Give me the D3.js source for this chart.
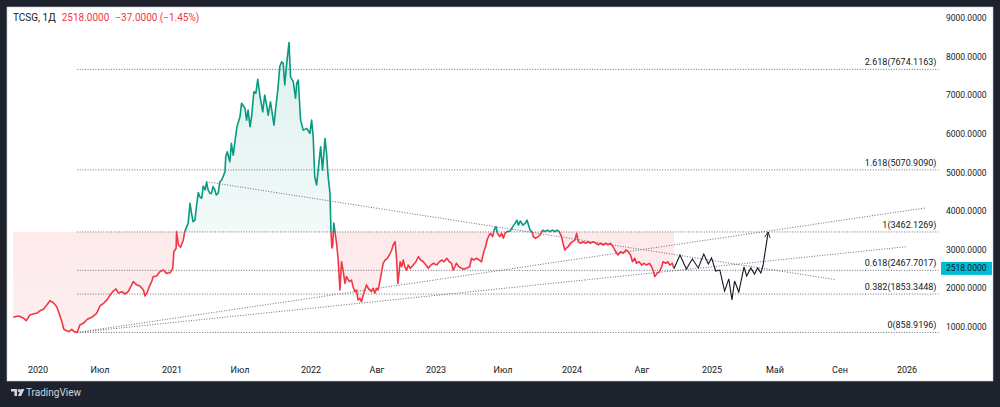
<!DOCTYPE html>
<html>
<head>
<meta charset="utf-8">
<title>TCSG</title>
<script src="https://cdn.jsdelivr.net/npm/d3@7"></script>
<style>
  html, body { margin: 0; padding: 0; background: #1e222d; }
  svg { display: block; }
  text { font-family: Roboto, "Noto Sans", sans-serif; }
</style>
</head>
<body>
<svg id="svg"></svg>
<script>
var WIDTH = 1000;
var HEIGHT = 407;

// price history (daily close)
var dates = ["2019-10-26","2019-11-03","2019-11-09","2019-11-18","2019-11-24","2019-11-30","2019-12-05","2019-12-10","2019-12-19","2019-12-28",
"2020-01-07","2020-01-17","2020-01-27","2020-02-05","2020-02-15","2020-02-25","2020-03-03","2020-03-11","2020-03-17","2020-03-25",
"2020-04-01","2020-04-09","2020-04-16","2020-04-25","2020-05-03","2020-05-13","2020-05-25","2020-06-07","2020-06-21",
"2020-07-01","2020-07-11","2020-07-20","2020-07-27","2020-08-04","2020-08-11","2020-08-17","2020-08-26","2020-09-03","2020-09-11",
"2020-09-20","2020-09-24","2020-10-03","2020-10-11","2020-10-20","2020-10-24","2020-10-30","2020-11-04","2020-11-10","2020-11-14",
"2020-11-23","2020-12-01","2020-12-10","2020-12-18","2020-12-27",
"2021-01-03","2021-01-06","2021-01-12","2021-01-13","2021-01-18","2021-01-24","2021-01-31","2021-02-04","2021-02-09","2021-02-13",
"2021-02-18","2021-02-22","2021-02-26","2021-03-03","2021-03-07","2021-03-12","2021-03-16","2021-03-21","2021-03-25","2021-03-30",
"2021-04-03","2021-04-07","2021-04-12","2021-04-16","2021-04-20","2021-04-25","2021-04-29","2021-05-04","2021-05-08","2021-05-13",
"2021-05-17","2021-05-22","2021-05-24","2021-05-28","2021-06-04","2021-06-08","2021-06-13","2021-06-17","2021-06-23","2021-07-01",
"2021-07-05","2021-07-14","2021-07-18","2021-07-22","2021-07-27","2021-07-31","2021-08-06","2021-08-11","2021-08-16","2021-08-22",
"2021-08-29","2021-09-03","2021-09-08","2021-09-12","2021-09-18","2021-09-27","2021-10-02","2021-10-07","2021-10-12","2021-10-17",
"2021-10-21","2021-10-25","2021-10-30","2021-11-05","2021-11-09","2021-11-16","2021-11-22","2021-11-25","2021-11-29","2021-12-05",
"2021-12-12","2021-12-21","2021-12-29",
"2022-01-03","2022-01-08","2022-01-13","2022-01-19","2022-01-24","2022-02-01","2022-02-07","2022-02-15","2022-02-20","2022-02-25",
"2022-03-03","2022-03-06","2022-03-09","2022-03-12","2022-03-15","2022-03-19","2022-03-24","2022-03-29","2022-04-04","2022-04-09",
"2022-04-14","2022-04-20","2022-04-25","2022-05-04","2022-05-11","2022-05-16","2022-05-22","2022-05-27","2022-06-01","2022-06-07",
"2022-06-12","2022-06-18","2022-06-23","2022-06-28","2022-07-04","2022-07-09","2022-07-14","2022-07-20","2022-07-25","2022-07-31",
"2022-08-04","2022-08-09","2022-08-13","2022-08-17","2022-08-22","2022-08-28","2022-09-02","2022-09-08","2022-09-12","2022-09-17",
"2022-09-21","2022-09-24","2022-09-27","2022-09-30","2022-10-04","2022-10-08","2022-10-12","2022-10-17","2022-10-21","2022-10-26",
"2022-11-03","2022-11-10","2022-11-16","2022-11-22","2022-11-29","2022-12-06","2022-12-12","2022-12-19","2022-12-25",
"2023-01-03","2023-01-10","2023-01-16","2023-01-23","2023-01-30","2023-02-06","2023-02-12","2023-02-16","2023-02-21","2023-02-25",
"2023-03-04","2023-03-11","2023-03-17","2023-03-24","2023-04-02","2023-04-07","2023-04-13","2023-04-20","2023-04-28","2023-05-04",
"2023-05-10","2023-05-15","2023-05-19","2023-05-25","2023-05-28","2023-06-03","2023-06-07","2023-06-12","2023-06-16","2023-06-22",
"2023-06-27","2023-07-02","2023-07-06","2023-07-12","2023-07-20","2023-07-27","2023-08-02","2023-08-07","2023-08-11","2023-08-16",
"2023-08-23","2023-08-29","2023-09-03","2023-09-07","2023-09-11","2023-09-16","2023-09-20","2023-09-25","2023-10-01","2023-10-08",
"2023-10-15","2023-10-21","2023-10-27","2023-11-03","2023-11-10","2023-11-16","2023-11-22","2023-11-28","2023-12-04","2023-12-08",
"2023-12-13","2023-12-17","2023-12-22","2023-12-28",
"2024-01-03","2024-01-10","2024-01-15","2024-01-20","2024-01-27","2024-02-04","2024-02-12","2024-02-19","2024-02-26","2024-03-05",
"2024-03-14","2024-03-21","2024-03-28","2024-04-05","2024-04-13","2024-04-20","2024-04-27","2024-05-05","2024-05-10","2024-05-16",
"2024-05-20","2024-05-28","2024-06-05","2024-06-13","2024-06-20","2024-06-27","2024-07-03","2024-07-10","2024-07-15","2024-07-23",
"2024-07-31","2024-08-05","2024-08-11","2024-08-17","2024-08-22","2024-08-26","2024-08-29","2024-09-03","2024-09-08","2024-09-13",
"2024-09-16","2024-09-22","2024-09-26","2024-10-01","2024-10-06","2024-10-10"];

var prices = [1250,1270,1285,1250,1220,1165,1235,1310,1335,1355,
1420,1460,1570,1680,1630,1525,1355,1135,940,905,
880,940,880,859,1050,1095,1200,1250,1355,
1545,1620,1715,1830,1930,1985,1880,1915,1855,1915,
2090,2175,2090,2060,1960,1805,1905,2045,2175,2305,
2320,2430,2475,2390,2405,
2520,2950,3040,3470,3125,3065,3255,3470,3600,3685,
4205,3945,3730,3770,4115,4485,4375,4335,4650,4550,
4755,4550,4460,4460,4635,4550,4420,4465,4755,4810,
4895,5020,5410,5540,5280,5760,5455,5760,6190,6445,
6795,6665,6360,6620,6190,6445,7095,7055,7415,6965,
6575,7010,6750,6490,6835,6230,6705,7140,7740,7870,
7830,7270,7830,8370,7480,7355,6925,7310,7400,6360,
6100,6145,6015,
6360,5930,4895,4680,5065,5670,5065,5885,5500,4895,
4465,3510,3045,3125,3695,3470,3170,2780,1960,2690,
2475,2130,2305,2175,2215,2045,1915,1960,1700,1745,
1655,1830,1960,2090,2000,1960,1915,2000,1875,2000,
1960,2215,2430,2650,2735,2780,2865,2995,3125,3210,
2735,2130,2390,2690,2560,2735,2560,2475,2605,2520,
2605,2690,2820,2735,2690,2605,2520,2605,2650,
2605,2690,2735,2690,2780,2690,2650,2475,2560,2650,
2560,2520,2495,2520,2560,2780,2735,2780,2735,2690,
2950,3080,3255,3385,3425,3340,3510,3600,3425,3340,
3425,3300,3425,3470,3485,3600,3685,3770,3640,3745,
3640,3685,3770,3640,3510,3470,3340,3300,3325,3385,
3510,3470,3510,3470,3510,3470,3510,3470,3340,3170,
2995,3040,3080,3170,
3210,3255,3425,3210,3170,3210,3170,3210,3170,3210,
3170,3125,3170,3125,3170,3125,3170,3080,2995,2910,
2865,2950,2910,2995,2950,2865,2690,2780,2650,2690,
2605,2650,2605,2650,2560,2430,2305,2390,2430,2560,
2690,2650,2690,2605,2650,2518];

// hand-drawn projection after the last bar
var projDates = ["2024-10-10","2024-10-23","2024-11-06","2024-11-19","2024-12-02","2024-12-14","2024-12-24","2024-12-31",
"2025-01-08","2025-01-16","2025-01-25","2025-02-02","2025-02-08","2025-02-13","2025-02-21","2025-03-03","2025-03-08",
"2025-03-16","2025-03-23","2025-03-29","2025-04-04","2025-04-08","2025-04-18"];
var projPrices = [2518,2865,2500,2760,2530,2890,2630,2790,2450,2475,1930,2245,1700,2190,1905,2555,2320,2530,2370,2530,2400,2580,3460];

// fibonacci extension levels
var fibRatios = ["0","0.382","0.618","1","1.618","2.618"];
var fibValues = [858.9196,1853.3448,2467.7017,3462.1269,5070.9090,7674.1163];
var fibStart = "2020-04-25";
var fibEnd = "2026-02-28";
var baseline = 3462.1269;

// trend lines: [start date, start price, end date, end price]
var trendLines = [
  ["2020-04-25", 858.92, "2026-02-03", 4082],
  ["2020-04-25", 858.92, "2025-12-31", 3080],
  ["2021-04-03", 4763, "2025-08-22", 2230]
];

// time axis (TradingView bar axis, so spacing per month is not even)
var axisDates = ["2019-10-01","2020-01-01","2020-07-01","2021-01-01","2021-07-01","2022-01-01","2022-08-01","2023-01-01",
"2023-07-01","2024-01-01","2024-08-01","2025-01-01","2025-05-01","2025-09-01","2026-01-01","2026-03-01"];
var axisPx = [4,38,100,172,240,311,377,436,503,572,642,712,775,840,907,939];
var xTickLabels = ["2020","Июл","2021","Июл","2022","Авг","2023","Июл","2024","Авг","2025","Май","Сен","2026"];
var yTicks = [1000,2000,3000,4000,5000,6000,7000,8000,9000];
var lastPrice = 2518;

var parse = d3.timeParse("%Y-%m-%d");
var fmt4 = d3.format(".4f");

var GREEN = "#089981";
var RED = "#f23645";

var svg = d3.select("#svg").attr("width", WIDTH).attr("height", HEIGHT);

var xScale = d3.scaleTime().domain(axisDates.map(parse)).range(axisPx);
var yScale = d3.scaleLinear().domain([1000, 9000]).range([327, 18.2]);

var series = dates.map(function(d, i){ return {date: parse(d), value: prices[i]}; });
var proj = projDates.map(function(d, i){ return {date: parse(d), value: projPrices[i]}; });

// white panel
svg.append("rect").attr("x", 7).attr("y", 7).attr("width", 986).attr("height", 374)
   .attr("fill", "#ffffff").attr("stroke", "#c9ccd3").attr("stroke-width", 0.6);

var defs = svg.append("defs");
var by = yScale(baseline);
defs.append("clipPath").attr("id", "above").append("rect")
    .attr("x", 0).attr("y", 0).attr("width", 940).attr("height", by);
defs.append("clipPath").attr("id", "below").append("rect")
    .attr("x", 0).attr("y", by).attr("width", 940).attr("height", HEIGHT - by);

var gTop = defs.append("linearGradient").attr("id", "gTop")
    .attr("gradientUnits", "userSpaceOnUse").attr("x1", 0).attr("x2", 0)
    .attr("y1", yScale(8400)).attr("y2", by);
gTop.append("stop").attr("offset", 0).attr("stop-color", GREEN).attr("stop-opacity", 0.14);
gTop.append("stop").attr("offset", 1).attr("stop-color", GREEN).attr("stop-opacity", 0.05);
var gBot = defs.append("linearGradient").attr("id", "gBot")
    .attr("gradientUnits", "userSpaceOnUse").attr("x1", 0).attr("x2", 0)
    .attr("y1", by).attr("y2", yScale(850));
gBot.append("stop").attr("offset", 0).attr("stop-color", RED).attr("stop-opacity", 0.11);
gBot.append("stop").attr("offset", 1).attr("stop-color", RED).attr("stop-opacity", 0.08);

defs.append("marker").attr("id", "arrow").attr("viewBox", "0 0 10 10")
    .attr("refX", 9).attr("refY", 5).attr("markerWidth", 7).attr("markerHeight", 7)
    .attr("markerUnits", "userSpaceOnUse").attr("orient", "auto")
    .append("path").attr("d", "M1,1 L9,5 L1,9").attr("fill", "none")
    .attr("stroke", "#131722").attr("stroke-width", 1.2);

var area = d3.area().x(function(d){ return xScale(d.date); })
    .y0(by).y1(function(d){ return yScale(d.value); });
var line = d3.line().x(function(d){ return xScale(d.date); })
    .y(function(d){ return yScale(d.value); });

svg.append("path").datum(series).attr("d", area).attr("fill", "url(#gTop)").attr("clip-path", "url(#above)");
svg.append("path").datum(series).attr("d", area).attr("fill", "url(#gBot)").attr("clip-path", "url(#below)");

// fib levels
var x0 = xScale(parse(fibStart)), x1 = xScale(parse(fibEnd));
svg.selectAll(".fib").data(fibValues).enter().append("line")
   .attr("x1", x0).attr("x2", x1)
   .attr("y1", function(d){ return yScale(d); }).attr("y2", function(d){ return yScale(d); })
   .attr("stroke", "#6a6d78").attr("stroke-width", 1).attr("stroke-dasharray", "1,1.6");
svg.selectAll(".fibLabel").data(fibValues).enter().append("text")
   .attr("x", x1 - 2).attr("y", function(d){ return yScale(d) - 4; })
   .attr("text-anchor", "end").attr("font-size", "9px").attr("fill", "#131722")
   .text(function(d, i){ return fibRatios[i] + "(" + fmt4(d) + ")"; });

// trend lines
svg.selectAll(".trend").data(trendLines).enter().append("line")
   .attr("x1", function(d){ return xScale(parse(d[0])); })
   .attr("y1", function(d){ return yScale(d[1]); })
   .attr("x2", function(d){ return xScale(parse(d[2])); })
   .attr("y2", function(d){ return yScale(d[3]); })
   .attr("stroke", "#6a6d78").attr("stroke-width", 1).attr("stroke-dasharray", "1,1.6");

// price line split at the baseline
svg.append("path").datum(series).attr("d", line).attr("fill", "none")
   .attr("stroke", GREEN).attr("stroke-width", 1.6).attr("stroke-linejoin", "round").attr("clip-path", "url(#above)");
svg.append("path").datum(series).attr("d", line).attr("fill", "none")
   .attr("stroke", RED).attr("stroke-width", 1.6).attr("stroke-linejoin", "round").attr("clip-path", "url(#below)");

// projection
svg.append("path").datum(proj).attr("d", line).attr("fill", "none")
   .attr("stroke", "#131722").attr("stroke-width", 1.1).attr("marker-end", "url(#arrow)");

// price scale
svg.selectAll(".ytick").data(yTicks).enter().append("text")
   .attr("x", 946).attr("y", function(d){ return yScale(d) + 3; })
   .attr("font-size", "8.5px").attr("fill", "#131722")
   .text(function(d){ return fmt4(d); });
var ly = yScale(lastPrice);
svg.append("rect").attr("x", 941).attr("y", ly - 6.5).attr("width", 51).attr("height", 13)
   .attr("fill", "#00bcd4");
svg.append("text").attr("x", 946).attr("y", ly + 3).attr("font-size", "8.5px")
   .attr("fill", "#131722").text(fmt4(lastPrice));

// time scale
svg.selectAll(".xtick").data(xTickLabels).enter().append("text")
   .attr("x", function(d, i){ return xScale(parse(axisDates[i + 1])); })
   .attr("y", 373).attr("text-anchor", "middle").attr("font-size", "9px").attr("fill", "#131722")
   .text(function(d){ return d; });

// legend
var legend = svg.append("text").attr("x", 13).attr("y", 20.5).attr("font-size", "10px");
legend.append("tspan").attr("fill", "#131722").text("TCSG, 1Д");
legend.append("tspan").attr("fill", RED).attr("dx", 6).text(fmt4(lastPrice));
legend.append("tspan").attr("fill", RED).attr("dx", 6).text("−37.0000 (−1.45%)");

// watermark
var logo = svg.append("g").attr("fill", "#d1d4dc");
logo.append("path").attr("d", "M11,389 h6 v7 h-2.6 v-4.4 h-3.4 z");
logo.append("circle").attr("cx", 19.2).attr("cy", 390.6).attr("r", 1.5);
logo.append("path").attr("d", "M21,389 h3.4 l-3.2,7 h-3.3 z");
svg.append("text").attr("x", 26).attr("y", 396).attr("font-size", "10px")
   .attr("fill", "#d1d4dc").text("TradingView");
</script>
</body>
</html>
